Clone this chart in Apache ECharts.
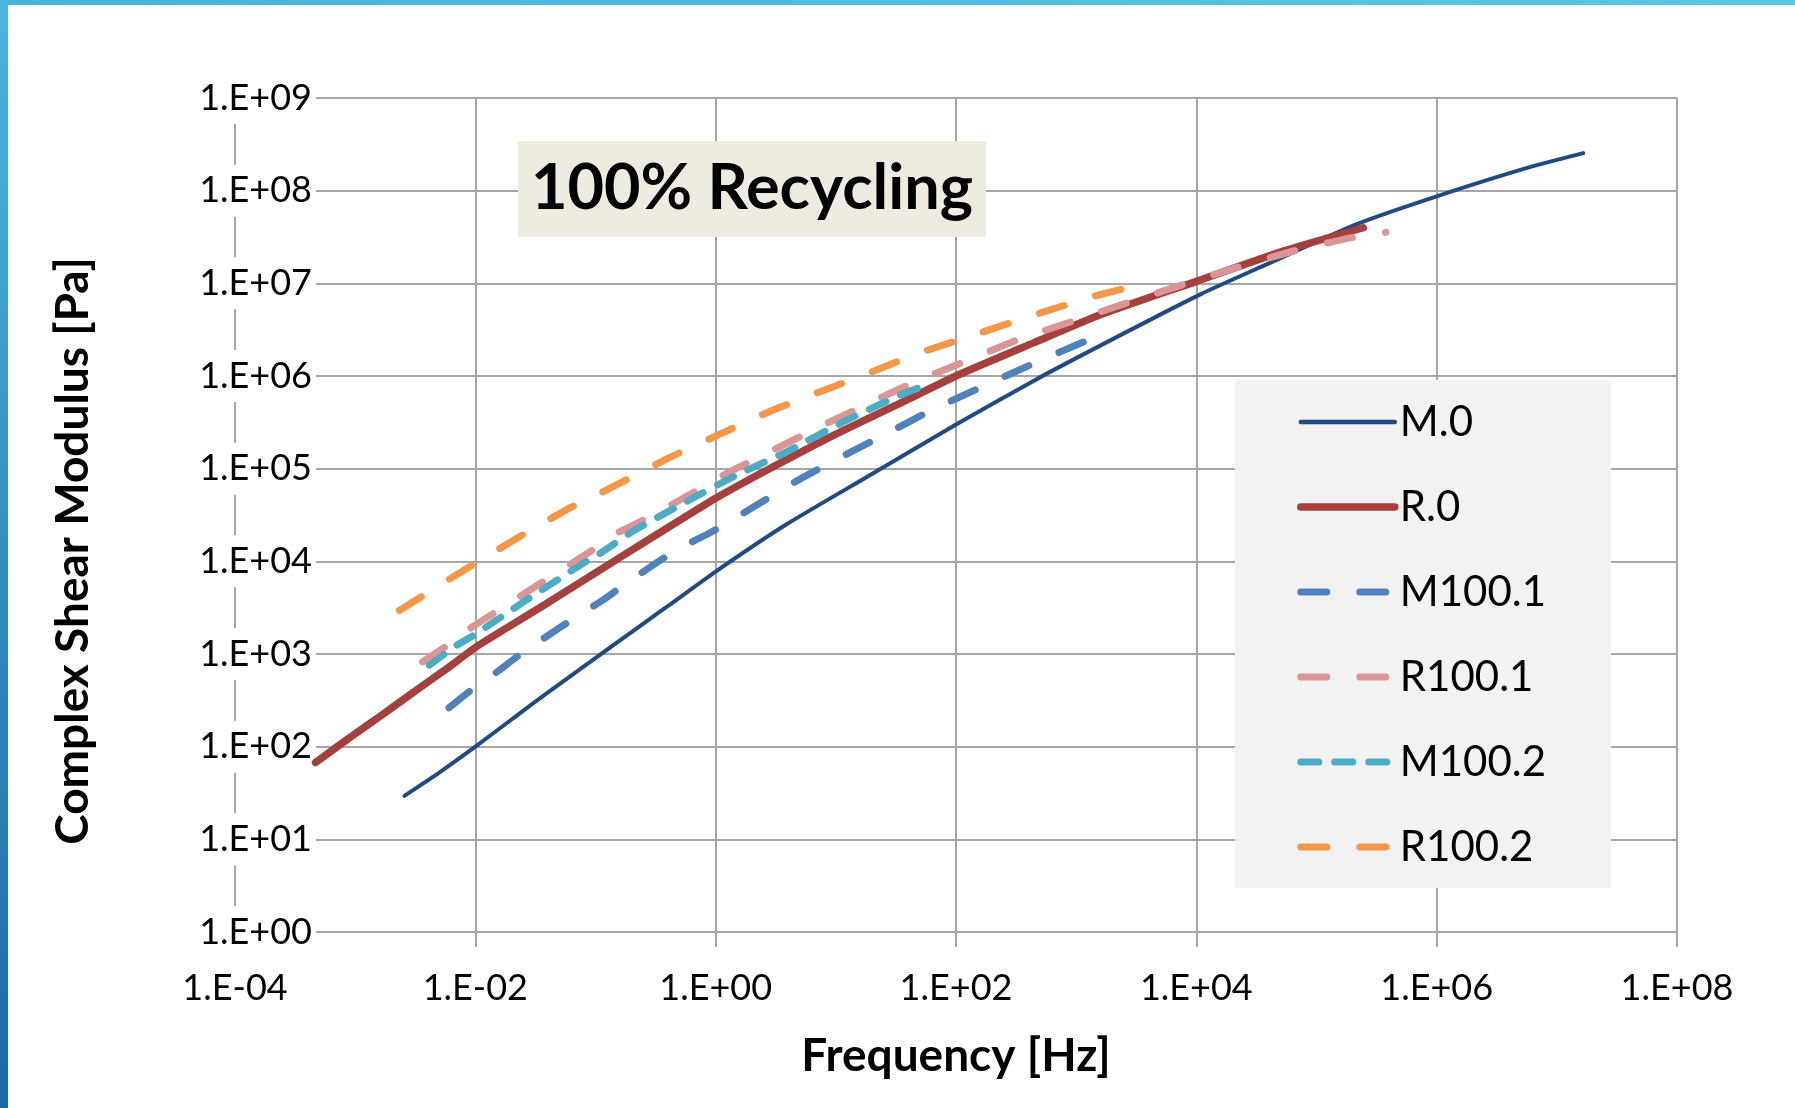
<!DOCTYPE html>
<html>
<head>
<meta charset="utf-8">
<script src="https://cdn.jsdelivr.net/npm/echarts@6/dist/echarts.min.js"></script>
<style>
html,body{margin:0;padding:0;background:#fff;}
#chart{width:1795px;height:1108px;}
</style>
</head>
<body>
<div id="chart"></div>
<script>
// ---------- data ----------
const seriesNames = ['M.0', 'R.0', 'M100.1', 'R100.1', 'M100.2', 'R100.2'];
const xTickLabels = ['1.E-04', '1.E-02', '1.E+00', '1.E+02', '1.E+04', '1.E+06', '1.E+08'];
const yTickLabels = ['1.E+00', '1.E+01', '1.E+02', '1.E+03', '1.E+04', '1.E+05', '1.E+06', '1.E+07', '1.E+08', '1.E+09'];

const m0Freq = [2.57e-3, 5.01e-3, 1.0e-2, 2.04e-2, 3.55e-2, 0.139, 0.264, 0.413, 1, 3.89, 18.1, 100, 445, 1600, 1.10e4, 3.88e4, 2.21e5, 1e6, 5.57e6, 1.66e7];
const m0Modulus = [29.5, 52.5, 100, 200, 343, 1230, 2240, 3390, 7760, 2.51e4, 8.13e4, 3.0e5, 8.91e5, 2.14e6, 7.69e6, 1.61e7, 4.40e7, 8.69e7, 1.75e8, 2.54e8];

const r0Freq = [4.68e-4, 1e-3, 1.58e-3, 3.31e-3, 5.75e-3, 1e-2, 2.04e-2, 3.55e-2, 0.107, 0.316, 1, 2.63, 9.55, 34.7, 100, 447, 1585, 1e4, 5.37e4, 2.45e5];
const r0Modulus = [67.6, 138, 209, 417, 692, 1175, 2090, 3240, 7940, 1.91e4, 4.79e4, 9.55e4, 2.29e5, 5.13e5, 1e6, 2.29e6, 4.57e6, 1.05e7, 2.24e7, 3.98e7];

const m1001Freq = [6.03e-3, 9.20e-3, 1.49e-2, 2.33e-2, 5.18e-2, 0.115, 0.163, 0.441, 0.920, 2.18, 4.86, 11.9, 24.9, 63.1, 165, 445, 1240];
const m1001Modulus = [263, 407, 631, 977, 1970, 3810, 5280, 1.26e4, 2.07e4, 4.03e4, 7.52e4, 1.40e5, 2.30e5, 4.29e5, 7.67e5, 1.37e6, 2.43e6];

const r1001Freq = [3.64e-3, 5.70e-3, 9.51e-3, 1.44e-2, 3.64e-2, 8.91e-2, 0.139, 0.205, 0.501, 1.23, 2.65, 6.92, 17.5, 45.8, 128, 323, 929, 2670, 7760, 2.11e4, 6.35e4, 1.91e5, 3.78e5];
const r1001Modulus = [822, 1210, 1970, 2790, 6000, 1.26e4, 1.91e4, 2.44e4, 4.56e4, 8.87e4, 1.46e5, 2.72e5, 4.85e5, 8.69e5, 1.49e6, 2.45e6, 3.89e6, 6.17e6, 9.70e6, 1.47e7, 2.22e7, 3.09e7, 3.55e7];

const m1002Freq = [4.14e-3, 7.13e-3, 9.82e-3, 1.64e-2, 2.91e-2, 7.83e-2, 0.108, 0.211, 0.501, 1.49, 3.89, 11.6, 34.3, 52.0];
const m1002Modulus = [759, 1260, 1610, 2510, 4130, 9440, 1.21e4, 2.16e4, 4.03e4, 8.51e4, 1.52e5, 3.21e5, 6.24e5, 7.67e5];

const r1002Freq = [2.33e-3, 9.82e-3, 2.56e-2, 6.27e-2, 0.108, 0.400, 1.04, 3.01, 9.53, 19.9, 48.8, 105, 506, 1420, 3260];
const r1002Modulus = [2950, 9440, 1.98e4, 3.84e4, 5.40e4, 1.29e5, 2.30e5, 4.29e5, 7.67e5, 1.11e6, 1.76e6, 2.45e6, 4.79e6, 7.28e6, 9.55e6];

// ---------- styles ----------
const FONT = 'Lato';
const GRID = '#a6a6a6';
const colors = ['#1f4a84', '#a6403c', '#4f81bd', '#d99694', '#4bacc6', '#f79646'];
const longDash = [26, 33];
const shortDash = [18, 16];
const lineWidths = [4, 7.5, 7, 7, 7, 7];
const legendWidths = [4.5, 7.5, 7, 7, 7, 7];
const lineTypes = ['solid', 'solid', longDash, longDash, shortDash, longDash];
const seriesZ = [2, 3, 3, 3, 3, 3];

function pairs(f, g) { return f.map(function (v, i) { return [v, g[i]]; }); }
function expOf(v) { return Math.round(Math.log10(v)); }

const seriesData = [
  pairs(m0Freq, m0Modulus),
  pairs(r0Freq, r0Modulus),
  pairs(m1001Freq, m1001Modulus),
  pairs(r1001Freq, r1001Modulus),
  pairs(m1002Freq, m1002Modulus),
  pairs(r1002Freq, r1002Modulus)
];

const chart = echarts.init(document.getElementById('chart'), null, { renderer: 'canvas', width: 1795, height: 1108 });

const series = seriesNames.map(function (name, i) {
  const s = {
    name: name, type: 'line', data: seriesData[i], z: seriesZ[i],
    showSymbol: false, symbol: 'none', smooth: 0.2,
    lineStyle: { color: colors[i], width: lineWidths[i], type: lineTypes[i], cap: 'round', join: 'round' },
    itemStyle: { color: colors[i] }
  };
  if (i === 0) {
    s.markLine = {
      silent: true, symbol: ['none', 'none'], label: { show: false },
      lineStyle: { color: GRID, width: 2, type: 'solid' },
      data: [{ xAxis: 1e-3 }]
    };
  }
  return s;
});

const option = {
  animation: false,
  backgroundColor: '#ffffff',
  graphic: [
    { type: 'rect', left: 0, top: 0, shape: { width: 1795, height: 5 }, style: { fill: new echarts.graphic.LinearGradient(0, 0, 1, 0, [{ offset: 0, color: '#45b2d9' }, { offset: 1, color: '#5bc6e5' }]) }, z: 100 },
    { type: 'rect', left: 0, top: 0, shape: { width: 8, height: 1108 }, style: { fill: new echarts.graphic.LinearGradient(0, 0, 0, 1, [{ offset: 0, color: '#4ab6dc' }, { offset: 1, color: '#1a6aa2' }]) }, z: 100 }
  ],
  title: {
    text: '100% Recycling',
    left: 518, top: 141,
    backgroundColor: '#eeece1',
    padding: [12, 13, 12, 13],
    textStyle: { fontFamily: FONT, fontWeight: 'bold', fontSize: 63, color: '#000', lineHeight: 72 }
  },
  legend: {
    orient: 'vertical',
    left: 1235, top: 380,
    backgroundColor: '#f2f2f2',
    padding: [17, 65, 16, 62],
    itemWidth: 94, itemHeight: 14, itemGap: 35,
    selectedMode: false,
    itemStyle: { opacity: 0 },
    textStyle: { fontFamily: FONT, fontSize: 42, color: '#000', lineHeight: 50 },
    data: seriesNames.map(function (name, i) {
      return { name: name, lineStyle: { width: legendWidths[i], type: lineTypes[i], cap: 'round', color: colors[i] } };
    })
  },
  grid: { left: 235, right: 118, top: 98, bottom: 176, containLabel: false },
  xAxis: {
    type: 'log', logBase: 10, min: 1e-4, max: 1e8, interval: 2,
    axisLine: { show: true, lineStyle: { color: GRID, width: 2 } },
    axisTick: { show: true, length: 15, lineStyle: { color: GRID, width: 2 } },
    splitLine: { show: true, lineStyle: { color: GRID, width: 2 } },
    axisLabel: {
      margin: 36, fontFamily: FONT, fontSize: 36, color: '#000', lineHeight: 40,
      formatter: function (v) { return xTickLabels[(expOf(v) + 4) / 2] || ''; }
    },
    name: 'Frequency [Hz]', nameLocation: 'middle', nameGap: 98,
    nameTextStyle: { fontFamily: FONT, fontWeight: 'bold', fontSize: 46, color: '#000', lineHeight: 52 }
  },
  yAxis: {
    type: 'log', logBase: 10, min: 1, max: 1e9, interval: 1,
    axisLine: { show: true, lineStyle: { color: GRID, width: 2 } },
    axisTick: { show: false },
    splitLine: { show: true, lineStyle: { color: GRID, width: 2 } },
    axisLabel: {
      margin: -81, fontFamily: FONT, fontSize: 36, color: '#000', lineHeight: 46,
      backgroundColor: '#ffffff', padding: [3, 4, 3, 4],
      formatter: function (v) { return yTickLabels[expOf(v)] || ''; }
    },
    name: 'Complex Shear Modulus [Pa]', nameLocation: 'middle', nameGap: 136,
    nameTextStyle: { fontFamily: FONT, fontWeight: 'bold', fontSize: 46, color: '#000', lineHeight: 52, padding: [0, 72, 0, 0] }
  },
  series: series
};
chart.setOption(option);
</script>
</body>
</html>
